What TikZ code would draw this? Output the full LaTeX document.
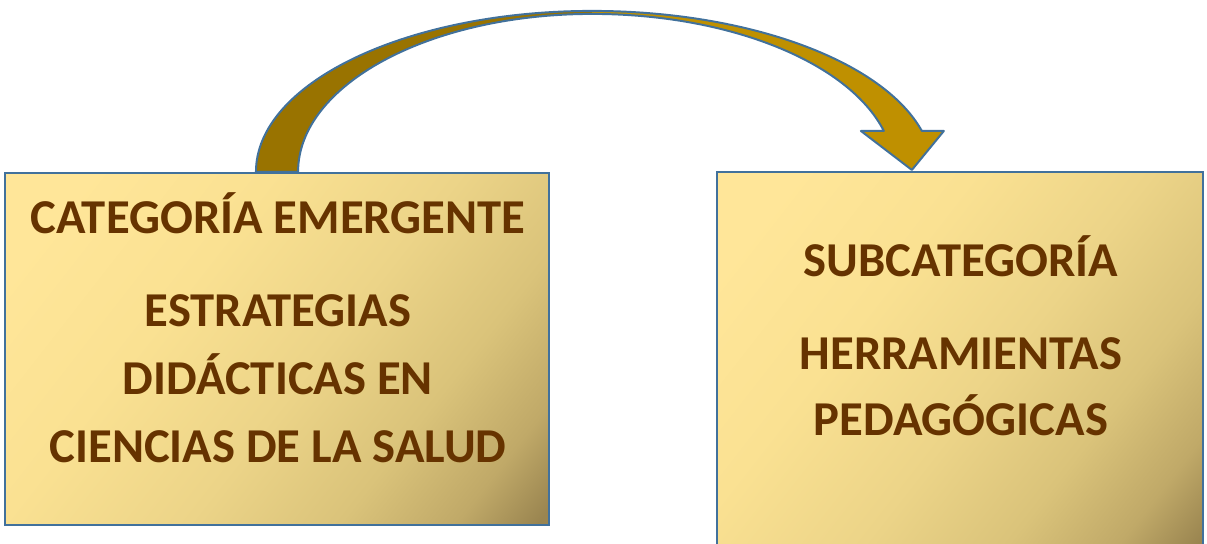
\documentclass[tikz,border=0pt]{standalone}
\usepackage{fontspec}
\setmainfont{Carlito}
\usetikzlibrary{calc}
\definecolor{boxline}{RGB}{65,113,156}
\definecolor{txtbrown}{RGB}{102,51,0}
\definecolor{arrowdark}{RGB}{153,115,0}
\definecolor{arrowgold}{RGB}{191,144,0}
\definecolor{goldA}{RGB}{255,230,153}
\definecolor{goldB}{RGB}{250,225,146}
\definecolor{goldC}{RGB}{236,212,136}
\definecolor{goldD}{RGB}{218,195,122}
\definecolor{goldE}{RGB}{192,169,104}
\definecolor{goldF}{RGB}{154,133,80}
\pgfdeclarehorizontalshading{goldbox}{100bp}{color(0bp)=(goldA); color(22bp)=(goldA);
  color(38bp)=(goldB); color(54bp)=(goldC); color(67bp)=(goldD); color(77bp)=(goldE);
  color(84bp)=(goldF); color(100bp)=(goldF)}
\begin{document}
\begin{tikzpicture}[x=0.025cm,y=0.025cm,
    catbox/.style={rectangle,draw=boxline,line width=1.4pt,shading=goldbox,shading angle=-38},
    lbl/.style={anchor=base,text=txtbrown,font=\bfseries\fontsize{34.6}{40}\selectfont},
    arrowpart/.style={draw=boxline,line width=1.4pt,line join=round}]
    \useasboundingbox (0,0) rectangle (1207,544);
    \clip (0,0) rectangle (1207,544);
    % boxes
    \node[catbox,minimum width=13.6cm,minimum height=8.8cm] (cat) at (277,195) {};
    \node[catbox,minimum width=12.15cm,minimum height=9.5cm] (sub) at (960,182) {};
    % left texts
    \node[lbl] (cattitle) at (278,310) {CATEGORÍA EMERGENTE};
    \node[lbl] (catline1) at (278,217) {ESTRATEGIAS};
    \node[lbl] (catline2) at (278,149) {DIDÁCTICAS EN};
    \node[lbl] (catline3) at (278,81) {CIENCIAS DE LA SALUD};
    % right texts
    \node[lbl] (subtitle) at (961,267) {SUBCATEGORÍA};
    \node[lbl] (subline1) at (961,174) {HERRAMIENTAS};
    \node[lbl] (subline2) at (961,108) {PEDAGÓGICAS};
    % curved arrow from cat to sub
    \coordinate (tail) at ($(cat.north west)+(252,0)$);
    \coordinate (peak) at ($(tail)+(336,161)$);
    \fill[arrowdark] (tail) arc[start angle=180,end angle=90,x radius=8.4cm,y radius=4.025cm]
        -- ++(0,-3) arc[start angle=90,end angle=180,x radius=7.35cm,y radius=3.95cm] -- cycle;
    \fill[arrowgold] (peak) arc[start angle=90,end angle=14.75,x radius=8.525cm,y radius=4.025cm]
        -- ++(22,0) -- ++(-32,-39) -- ++(-51,39) -- ++(23,0)
        arc[start angle=15.04,end angle=90,x radius=7.55cm,y radius=3.95cm] -- cycle;
    \draw[arrowpart] (tail) arc[start angle=180,end angle=90,x radius=8.4cm,y radius=4.025cm]
        arc[start angle=90,end angle=14.75,x radius=8.525cm,y radius=4.025cm]
        -- ++(22,0) -- ++(-32,-39) -- ++(-51,39) -- ++(23,0)
        arc[start angle=15.04,end angle=90,x radius=7.55cm,y radius=3.95cm]
        arc[start angle=90,end angle=180,x radius=7.35cm,y radius=3.95cm] -- cycle;
\end{tikzpicture}
\end{document}
